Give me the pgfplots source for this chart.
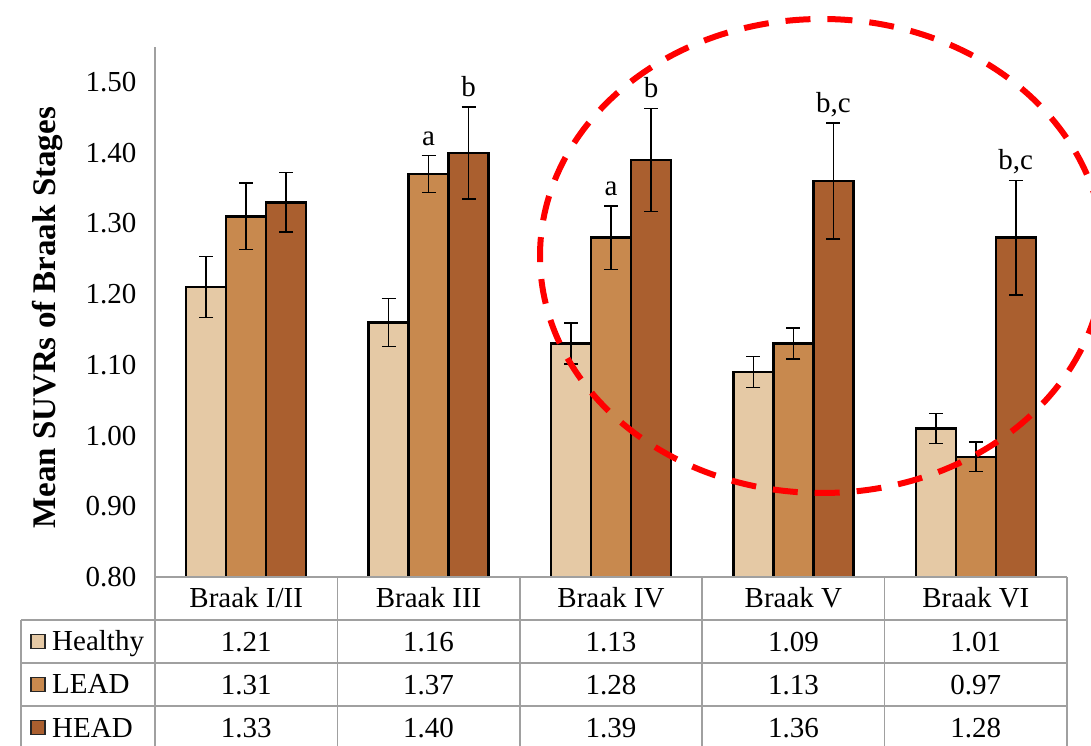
\documentclass[border=0pt]{standalone}
\usepackage{fontspec}
\setmainfont{Liberation Serif}
\usepackage{pgfplots}
\pgfplotsset{compat=1.18}
\usepackage{pgfplotstable}

\definecolor{healthy}{HTML}{E5C9A5}
\definecolor{lead}{HTML}{C8894E}
\definecolor{head}{HTML}{AA5F2F}
\definecolor{tblgray}{HTML}{A0A0A0}

\pgfplotstableread{
x healthy herr lead lerr head derr
0 1.21 0.043 1.31 0.047 1.33 0.042
1 1.16 0.034 1.37 0.026 1.40 0.065
2 1.13 0.029 1.28 0.045 1.39 0.073
3 1.09 0.022 1.13 0.022 1.36 0.082
4 1.01 0.021 0.97 0.021 1.28 0.081
}\data

\begin{document}
\begin{tikzpicture}[x=1pt,y=1pt,font=\fontsize{29}{34}\selectfont]
\useasboundingbox (0,0) rectangle (1091,746);
\clip (0,0) rectangle (1091,746);
\begin{axis}[
  at={(155pt,169pt)}, anchor=south west,
  scale only axis, width=912pt, height=530.25pt,
  xmin=-0.5, xmax=4.5, ymin=0.8, ymax=1.55,
  ybar=0pt, bar width=40pt,
  axis y line*=left, axis x line*=bottom,
  axis line style={draw=tblgray, line width=1.5pt},
  xtick=\empty,
  ytick={0.8,0.9,1.0,1.1,1.2,1.3,1.4,1.5},
  major tick length=0pt,
  /pgf/number format/assume math mode=true,
  yticklabel style={/pgf/number format/fixed, /pgf/number format/fixed zerofill, /pgf/number format/precision=2, xshift=-15pt},
  ylabel={Mean SUVRs of Braak Stages},
  ylabel style={font=\fontsize{33}{38}\selectfont\bfseries, at={(axis description cs:-0.1096,0.4887)}, anchor=base},
  clip=false,
  every axis plot/.append style={draw=black, line width=2.5pt,
    error bars/y dir=both, error bars/y explicit,
    error bars/error bar style={line width=1.5pt, black},
    error bars/error mark options={rotate=90, mark size=7pt, line width=1.5pt, black}},
]
\addplot[fill=healthy] table[x=x, y=healthy, y error=herr]{\data};
\addplot[fill=lead] table[x=x, y=lead, y error=lerr]{\data};
\addplot[fill=head] table[x=x, y=head, y error=derr]{\data};

\node[anchor=base, yshift=10.5pt] at (axis cs:1,1.396) {a};
\node[anchor=base, yshift=10.5pt] at (axis cs:1.2193,1.465) {b};
\node[anchor=base, yshift=10.5pt] at (axis cs:2,1.325) {a};
\node[anchor=base, yshift=10.5pt] at (axis cs:2.2193,1.463) {b};
\node[anchor=base, yshift=10.5pt] at (axis cs:3.2193,1.442) {b,c};
\node[anchor=base, yshift=10.5pt] at (axis cs:4.2193,1.361) {b,c};
\end{axis}

% data table below the chart
\begin{scope}[draw=tblgray, line width=1.5pt]
  \draw (155,169) -- (1067,169);
  \foreach \yy in {126,83,40} \draw (21,\yy) -- (1067,\yy);
  \draw (21,126) -- (21,-5);
  \foreach \k in {0,1,2,3,4,5} \draw ({155+182.4*\k},169) -- ({155+182.4*\k},-5);
\end{scope}

\foreach \n [count=\i from 0] in {Braak I/II,Braak III,Braak IV,Braak V,Braak VI}
  \node[anchor=base] at ({155+182.4*(\i+0.5)},138) {\n};
\foreach \v [count=\i from 0] in {1.21,1.16,1.13,1.09,1.01}
  \node[anchor=base] at ({155+182.4*(\i+0.5)},94) {\v};
\foreach \v [count=\i from 0] in {1.31,1.37,1.28,1.13,0.97}
  \node[anchor=base] at ({155+182.4*(\i+0.5)},51) {\v};
\foreach \v [count=\i from 0] in {1.33,1.40,1.39,1.36,1.28}
  \node[anchor=base] at ({155+182.4*(\i+0.5)},9) {\v};

\draw[black!85, line width=1.2pt, fill=healthy] (31,97.5) rectangle (45,111.5);
\draw[black!85, line width=1.2pt, fill=lead] (31,54.5) rectangle (45,68.5);
\draw[black!85, line width=1.2pt, fill=head] (31,11.5) rectangle (45,25.5);
\node[anchor=base west, inner sep=0pt] at (52,95) {Healthy};
\node[anchor=base west, inner sep=0pt] at (52,52) {LEAD};
\node[anchor=base west, inner sep=0pt] at (52,9) {HEAD};

% highlighted region
\draw[red, line width=6pt, dash pattern=on 25pt off 17pt] (822,490) ellipse [x radius=282, y radius=237];
\end{tikzpicture}
\end{document}
